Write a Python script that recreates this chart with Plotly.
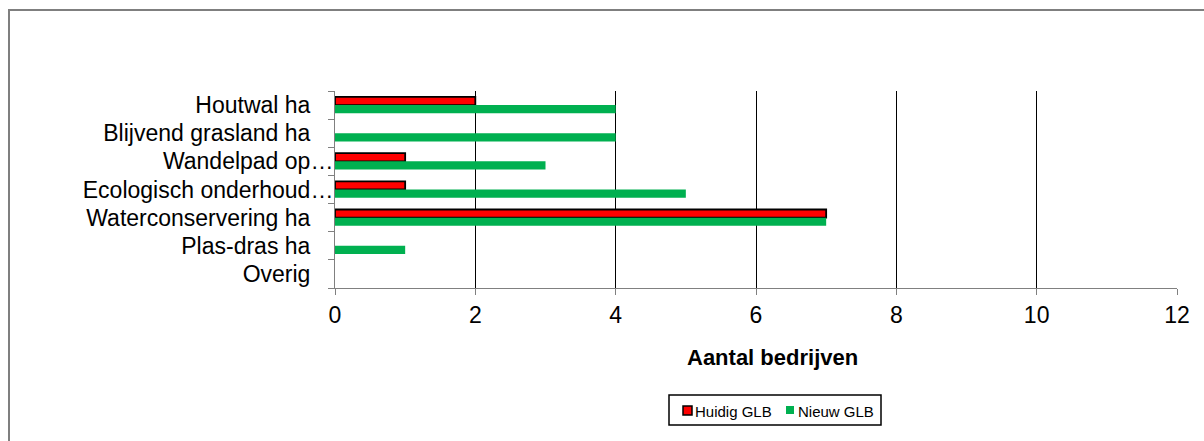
import plotly.graph_objects as go

# Categories (top to bottom) and counts per scheme
categories = [
    "Houtwal ha",
    "Blijvend grasland ha",
    "Wandelpad op…",
    "Ecologisch onderhoud…",
    "Waterconservering ha",
    "Plas-dras ha",
    "Overig",
]
huidig_glb = [2, 0, 1, 1, 7, 0, 0]
nieuw_glb = [4, 4, 3, 5, 7, 1, 0]
x_ticks = [0, 2, 4, 6, 8, 10, 12]
series_names = ["Huidig GLB", "Nieuw GLB"]

W, H = 1204, 441
L, R, T, B = 335, 27, 91, 153
pw, ph = W - L - R, H - T - B


def px(x):
    return (x - L) / pw


def py(y):
    return (H - B - y) / ph


RED, GREEN = "#FF0000", "#00B050"

# Truncated labels let their ellipsis hang past the common right edge;
# full labels get a transparent ellipsis so all text ends at the same place.
y_ticktext = [c if c.endswith("…")
              else c + '<span style="color:rgba(0,0,0,0)">…</span>'
              for c in categories]

fig = go.Figure()
fig.add_trace(go.Bar(
    y=categories, x=huidig_glb, orientation="h", name=series_names[0],
    marker=dict(color=RED, line=dict(color="#000000",
                width=[1.8 if v else 0 for v in huidig_glb])),
))
fig.add_trace(go.Bar(
    y=categories, x=nieuw_glb, orientation="h", name=series_names[1],
    marker=dict(color=GREEN, line=dict(width=0)),
))

font_family = "Liberation Sans, Arial, sans-serif"

# Legend box drawn in pixel positions
legend_shapes = [
    dict(type="rect", xref="paper", yref="paper",
         x0=px(669), x1=px(881), y0=py(425), y1=py(395),
         line=dict(color="#000000", width=1.5), fillcolor="white"),
    dict(type="rect", xref="paper", yref="paper",
         x0=px(683), x1=px(692), y0=py(415), y1=py(406),
         line=dict(color="#000000", width=1.5), fillcolor=RED),
    dict(type="rect", xref="paper", yref="paper",
         x0=px(786), x1=px(794), y0=py(414), y1=py(406),
         line=dict(width=0), fillcolor=GREEN),
]
legend_texts = [
    dict(text=series_names[0], x=px(693), y=py(411), xref="paper", yref="paper",
         xanchor="left", yanchor="middle", showarrow=False,
         font=dict(size=15, family=font_family)),
    dict(text=series_names[1], x=px(796), y=py(411), xref="paper", yref="paper",
         xanchor="left", yanchor="middle", showarrow=False,
         font=dict(size=15, family=font_family)),
]

fig.update_layout(
    width=W, height=H,
    margin=dict(l=L, r=R, t=T, b=B, autoexpand=False),
    paper_bgcolor="white", plot_bgcolor="white",
    barmode="group", bargap=0.42, bargroupgap=0,
    font=dict(family=font_family, color="black"),
    showlegend=False,
    xaxis=dict(
        range=[0, 12], tickvals=x_ticks, ticktext=[str(v) for v in x_ticks],
        showgrid=True, gridcolor="black", gridwidth=1, zeroline=False,
        showline=True, linecolor="#808080", linewidth=1,
        ticks="outside", ticklen=6, tickcolor="#808080",
        tickfont=dict(size=23),
    ),
    yaxis=dict(
        type="category", categoryorder="array", categoryarray=categories,
        tickvals=categories, ticktext=y_ticktext,
        autorange="reversed", showgrid=False, zeroline=False,
        showline=True, linecolor="#808080", linewidth=1,
        ticks="outside", ticklen=6, tickcolor="#808080", tickson="boundaries",
        tickfont=dict(size=23), ticklabelstandoff=-4,
    ),
    annotations=[dict(
        text="<b>Aantal bedrijven</b>", x=px(772), y=py(357),
        xref="paper", yref="paper", xanchor="center", yanchor="middle",
        showarrow=False, font=dict(size=22, family=font_family),
    )] + legend_texts,
    shapes=[dict(
        type="rect", xref="paper", yref="paper",
        x0=px(9), x1=px(1215), y0=py(452), y1=py(10),
        line=dict(color="#7f7f7f", width=2), fillcolor="rgba(0,0,0,0)",
        layer="below",
    )] + legend_shapes,
)

fig.write_html("out.html")
